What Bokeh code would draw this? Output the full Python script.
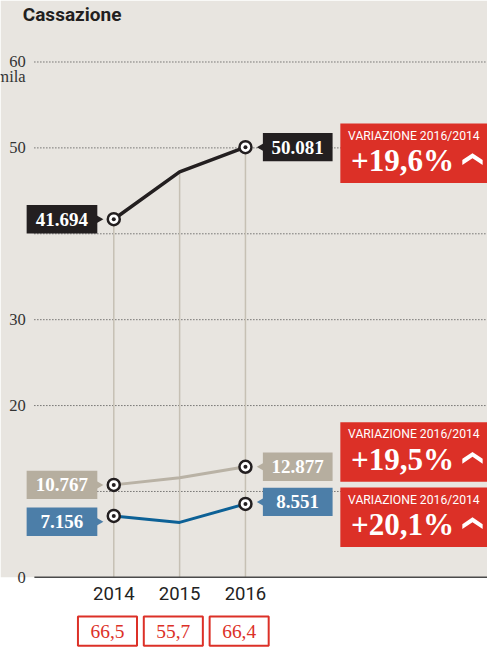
import numpy as np
from bokeh.plotting import figure
from bokeh.models import Range1d
from bokeh.core.properties import value
from bokeh.embed import file_html
from bokeh.resources import INLINE

# ---------------- data ----------------
title = "Cassazione"
years = [2014, 2015, 2016]
serie_nera = [41.694, 47.2, 50.081]
serie_grigia = [10.767, 11.6, 12.877]
serie_blu = [7.156, 6.4, 8.551]
variazioni = ["+19,6%", "+19,5%", "+20,1%"]
variazione_title = "VARIAZIONE 2016/2014"
bottom_values = ["66,5", "55,7", "66,4"]
grid_values = [10, 20, 30, 40, 50, 60]
tick_values = [0, 20, 30, 50, 60]
tick_labels = ["0", "20", "30", "50", "60"]
unit_label = "mila"

# ---------------- layout (reference pixel space 503x669, scaled to fit) ----------------
W, H = 487, 653
REF_W, REF_H = 503, 669
SX, SY = W / REF_W, H / REF_H
S = (SX + SY) / 2
PX_X = 68.0          # ref px per year
PX_Y = 8.8           # ref px per thousand
X_FIRST = 117        # ref x of first year
BASE = 591           # ref y of value 0

x0 = years[0] - X_FIRST / PX_X
x1 = x0 + REF_W / PX_X
y1 = BASE / PX_Y
y0 = -(REF_H - BASE) / PX_Y

def FX(px):
    return x0 + px / PX_X

def FY(py):
    return (BASE - py) / PX_Y

def dx(px):
    return px / PX_X

def dy(py):
    return -py / PX_Y

def fs(px):
    return value(f"{px * S:.1f}px")

BEIGE = "#e8e5e0"
RED = "#dc3027"
BLACK = "#231f20"
GREY_BOX = "#b6ae9f"
GREY_LINE = "#b9b2a5"
BLUE_BOX = "#4c7ea8"
BLUE_LINE = "#0d6196"
SERIF = value("Liberation Serif")
SANS = value("Roboto")

p = figure(width=W, height=H, output_backend="svg", toolbar_location=None,
           x_range=Range1d(x0, x1), y_range=Range1d(y0, y1),
           x_axis_location=None, y_axis_location=None, min_border=0)
p.outline_line_color = None
p.background_fill_color = "white"
p.border_fill_color = "white"
for g in p.grid:
    g.visible = False

# beige background above baseline
p.quad(left=[x0], right=[x1], bottom=[0], top=[y1], fill_color=BEIGE, line_color=None)

# dotted grid lines
p.multi_line(xs=[[FX(35), x1] for _ in grid_values], ys=[[v, v] for v in grid_values],
             line_color="#3a3a3a", line_width=1, line_dash="1 2")

# vertical year guides
tops = [max(a, b, c) for a, b, c in zip(serie_nera, serie_grigia, serie_blu)]
p.segment(x0=years, y0=[0] * 3, x1=years, y1=tops, line_color="#c6c0b4", line_width=1.5)

# baseline
p.segment(x0=[FX(35)], y0=[0], x1=[x1], y1=[0], line_color="#4a4a4a", line_width=1.5)

# tick labels
p.text(x=[FX(26)] * len(tick_values), y=tick_values, text=tick_labels,
       text_font=SERIF, text_font_size=fs(17), text_color="#333333",
       text_align="right", text_baseline="middle")
p.text(x=[FX(26)], y=[tick_values[-1] + dy(15)], text=[unit_label],
       text_font=SERIF, text_font_size=fs(17), text_color="#333333",
       text_align="right", text_baseline="middle")

# series lines
for vals, col, lw in [(serie_nera, BLACK, 3.5), (serie_grigia, GREY_LINE, 3), (serie_blu, BLUE_LINE, 3)]:
    p.line(years, vals, line_color=col, line_width=lw, line_join="round")

# markers at 2014 and 2016
mx, my = [], []
for vals in (serie_nera, serie_grigia, serie_blu):
    mx += [years[0], years[-1]]
    my += [vals[0], vals[-1]]
p.scatter(mx, my, size=12, fill_color="white", line_color=BLACK, line_width=2.5)
p.scatter(mx, my, size=4, fill_color=BLACK, line_color=None)

# value label boxes
box_specs = [
    (serie_nera, BLACK, 0, 0),
    (serie_grigia, GREY_BOX, 0, 0),
    (serie_blu, BLUE_BOX, 6, -2),
]
for vals, col, sdy, edy in box_specs:
    sx = years[0] + dx(-53.5)
    sy = vals[0] + dy(sdy)
    p.rect(x=[sx], y=[sy], width=73 * SX, height=29 * SY, width_units="screen",
           height_units="screen", fill_color=col, line_color=None)
    p.scatter(x=[years[0] + dx(-15.5)], y=[sy], marker="triangle", size=8, angle=-np.pi / 2,
              fill_color=col, line_color=None)
    p.text(x=[sx], y=[sy], text=[f"{vals[0]:.3f}"], text_font=SERIF,
           text_font_size=fs(19.5), text_font_style="bold", text_color="white",
           text_align="center", text_baseline="middle")
    ex = years[-1] + dx(54)
    ey = vals[-1] + dy(edy)
    p.rect(x=[ex], y=[ey], width=72 * SX, height=29 * SY, width_units="screen",
           height_units="screen", fill_color=col, line_color=None)
    p.scatter(x=[years[-1] + dx(16.5)], y=[ey], marker="triangle", size=8, angle=np.pi / 2,
              fill_color=col, line_color=None)
    p.text(x=[ex], y=[ey], text=[f"{vals[-1]:.3f}"], text_font=SERIF,
           text_font_size=fs(19.5), text_font_style="bold", text_color="white",
           text_align="center", text_baseline="middle")

# variation red boxes
red_tops = [126, 432, 499]
BOX_L = 351
chev_x = [126, 136.5, 147, 147, 136.5, 126]
chev_y = [37.5, 30.5, 37.5, 42.5, 35.5, 42.5]
for top_px, label in zip(red_tops, variazioni):
    p.quad(left=[FX(BOX_L)], right=[x1], top=[FY(top_px)], bottom=[FY(top_px + 61)],
           fill_color=RED, line_color=None)
    p.text(x=[FX(BOX_L + 8)], y=[FY(top_px + 12.5)], text=[variazione_title], text_font=SANS,
           text_font_size=fs(12.5), text_color="white", text_align="left",
           text_baseline="middle")
    p.text(x=[FX(BOX_L + 11)], y=[FY(top_px + 38)], text=[label], text_font=SERIF,
           text_font_size=fs(32), text_font_style="bold", text_color="white",
           text_align="left", text_baseline="middle")
    p.patch(x=[FX(BOX_L + c) for c in chev_x], y=[FY(top_px + c) for c in chev_y],
            fill_color="white", line_color=None)

# title
p.text(x=[FX(23)], y=[FY(14)], text=[title], text_font=SANS, text_font_size=fs(19.5),
       text_font_style="bold", text_color=BLACK, text_align="left", text_baseline="middle")

# year labels
p.text(x=years, y=[FY(608)] * 3, text=[str(y) for y in years], text_font=SANS,
       text_font_size=fs(19), text_color="#222222", text_align="center",
       text_baseline="middle")

# bottom boxed values
bx = [y + dx(-6.5) for y in years]
p.rect(x=bx, y=[FY(646)] * 3, width=61 * SX, height=30 * SY, width_units="screen",
       height_units="screen", fill_color="white", line_color=RED, line_width=2)
p.text(x=bx, y=[FY(646)] * 3, text=bottom_values, text_font=SERIF,
       text_font_size=fs(20), text_color=RED, text_align="center", text_baseline="middle")

open("out.html", "w").write(file_html(p, INLINE))
